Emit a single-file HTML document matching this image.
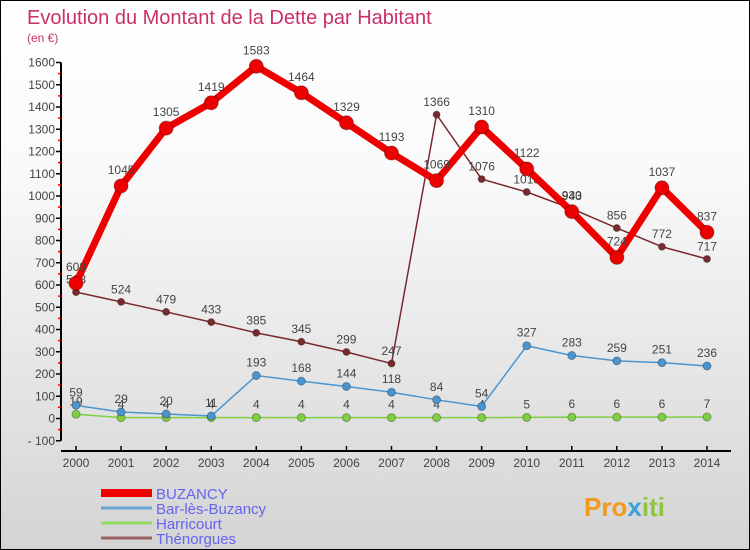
<!DOCTYPE html>
<html><head><meta charset="utf-8"><style>
body{margin:0}
#c{width:750px;height:550px;position:relative;background:linear-gradient(#fff,#fafafa 30%,#d4d4d4);border:1px solid #000;box-sizing:border-box;overflow:hidden;font-family:"Liberation Sans",sans-serif}
svg{position:absolute;left:0;top:0}
</style></head><body>
<div id="c">
<svg id="s" width="750" height="550">
<text x="26" y="23" font-size="20" fill="#c8306a">Evolution du Montant de la Dette par Habitant</text>
<text x="26" y="41" font-size="12" fill="#c8306a">(en €)</text>
<g id="g"></g>
<text x="583" y="515" font-size="26" font-weight="bold" fill="#f39a1e">Pro<tspan fill="#3aa0d8">x</tspan><tspan fill="#8cc63f">iti</tspan></text>
</svg>
</div>
<script>
const years=[2000,2001,2002,2003,2004,2005,2006,2007,2008,2009,2010,2011,2012,2013,2014];
const yTicks=[-100,0,100,200,300,400,500,600,700,800,900,1000,1100,1200,1300,1400,1500,1600];
const buzancy=[608,1045,1305,1419,1583,1464,1329,1193,1069,1310,1122,930,724,1037,837];
const bar=[59,29,20,11,193,168,144,118,84,54,327,283,259,251,236];
const harricourt=[19,4,4,4,4,4,4,4,4,4,5,6,6,6,7];
const thenorgues=[568,524,479,433,385,345,299,247,1366,1076,1018,943,856,772,717];
const seriesNames=["BUZANCY","Bar-lès-Buzancy","Harricourt","Thénorgues"];
const NS="http://www.w3.org/2000/svg",g=document.getElementById('g');
const X=i=>75+i*(706-75)/(years.length-1);
const Y=v=>417.5-v*0.2225;
function mk(t,a,p){const e=document.createElementNS(NS,t);for(const k in a)e.setAttribute(k,a[k]);(p||g).appendChild(e);return e;}
let e=mk('line',{x1:60,y1:Y(1600),x2:60,y2:Y(-100),stroke:'#000','stroke-width':2});


e=mk('line',{x1:60,y1:450,x2:730,y2:450,stroke:'#000','stroke-width':2});


yTicks.forEach((v,i)=>{
 mk('line',{x1:55,y1:Y(v),x2:60,y2:Y(v),stroke:'#000','stroke-width':1.5});
 if(i<yTicks.length-1)mk('line',{x1:57,y1:Y(v+50),x2:60,y2:Y(v+50),stroke:'#e00','stroke-width':1.5});
 const t=mk('text',{x:54,y:Y(v)+4,'font-size':12,fill:'#444','text-anchor':'end'});t.textContent=v<0?'- '+(-v):v;
 
 
});
years.forEach((y,i)=>{
 mk('line',{x1:X(i),y1:445,x2:X(i),y2:450,stroke:'#000','stroke-width':1.5});
 const t=mk('text',{x:X(i),y:466,'font-size':12,fill:'#444','text-anchor':'middle'});t.textContent=y;
 
 
});
function series(data,col,w,r,name,lab){
 const pts=data.map((v,i)=>X(i)+','+Y(v)).join(' ');
 const l=mk('polyline',{points:pts,fill:'none',stroke:col,'stroke-width':w,'stroke-linejoin':'round'});
 
 
 data.forEach((v,i)=>{
  const c=mk('circle',{cx:X(i),cy:Y(v),r:r,fill:col,stroke:'rgba(0,0,0,0.3)'});
  
  
  if(lab){const t=mk('text',{x:X(i),y:Y(v)-r-5,'font-size':12,fill:'#444','text-anchor':'middle'});t.textContent=v;
  
  }
 });
}
series(thenorgues,'#7a2a2e',1.5,3.5,'thenorgues',true);
series(harricourt,'#7ed040',1.5,4,'harricourt',true);
series(bar,'#4a95cf',1.5,4,'bar-les-buzancy',true);
series(buzancy,'#ee0000',7,7,'buzancy',true);
const cols=['#ee0000','#6aa6d4','#8fdc60','#9a6464'],ws=[8,3,3,3];
seriesNames.forEach((n,i)=>{
 const y=492+i*15;
 const l=mk('line',{x1:100,y1:y,x2:151,y2:y,stroke:cols[i],'stroke-width':ws[i]});
 
 
 const t=mk('text',{x:155,y:y+6,'font-size':15,fill:'#6464f0'});t.textContent=n;
 
 
});
</script>
</body></html>
